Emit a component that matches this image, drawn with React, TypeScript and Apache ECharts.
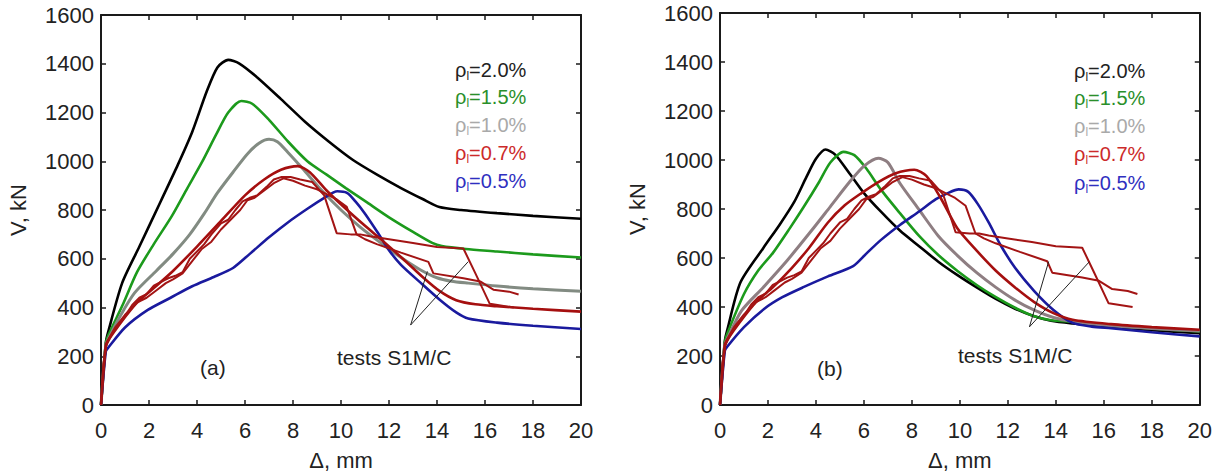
import React, { useEffect, useRef } from "react";
import * as echarts from "echarts";

// ---------- axis settings ----------
const xRange = [0, 20];
const xStep = 2;
const yRange = [0, 1600];
const yStep = 200;
const xName = "Δ, mm";
const yName = "V, kN";

// ---------- legend labels ----------
const legendRatios = ["2.0%", "1.5%", "1.0%", "0.7%", "0.5%"];

// ---------- panel (a) model curves ----------
const a_rho20 = [[0,0],[0.2,255],[0.3,300],[0.88,500],[1.6,650],[2.5,838],[3.2,985],[3.8,1120],[4.4,1285],[4.85,1385],[5.3,1416],[5.75,1402],[6.5,1345],[7.5,1255],[8.5,1162],[9.5,1080],[10.5,1005],[11.5,945],[12.5,890],[13.4,845],[14.1,812],[15,800],[16.5,787],[18,776],[20,764]];
const a_rho15 = [[0,0],[0.2,250],[0.3,285],[0.9,410],[1.5,545],[2.2,660],[2.95,775],[3.6,890],[4.2,995],[4.8,1110],[5.3,1200],[5.85,1247],[6.3,1236],[7.0,1170],[7.8,1080],[8.6,1000],[9.4,945],[10.2,890],[11.1,830],[12.0,770],[13.0,710],[13.8,665],[14.2,652],[15.2,640],[16.5,630],[18,618],[20,605]];
const a_rho10 = [[0,0],[0.2,245],[0.3,270],[0.8,365],[1.4,460],[2.3,550],[3.0,620],[3.7,700],[4.3,785],[4.85,870],[5.5,955],[6.1,1030],[6.6,1075],[7.0,1090],[7.35,1080],[7.8,1035],[8.4,970],[9.2,880],[10.0,800],[10.8,730],[11.7,662],[12.5,605],[13.3,555],[14.0,522],[14.6,508],[15.3,500],[16.5,488],[18,477],[20,467]];
const a_rho07 = [[0,0],[0.2,245],[0.3,265],[0.8,335],[1.5,420],[2.2,480],[3.0,550],[4.0,650],[5.0,755],[6.0,860],[6.8,925],[7.5,965],[8.2,980],[8.7,955],[9.4,880],[10.2,805],[11.0,735],[11.8,668],[12.6,598],[13.4,525],[14.1,468],[14.8,430],[15.6,413],[16.5,405],[18,395],[20,383]];
const a_rho05 = [[0,0],[0.2,220],[0.3,235],[1.0,318],[1.95,390],[2.9,440],[3.8,487],[4.7,525],[5.5,562],[6.2,620],[7.0,688],[7.8,750],[8.6,805],[9.3,850],[9.85,877],[10.25,870],[10.6,835],[11.0,785],[11.5,712],[12.0,635],[12.5,575],[13.3,503],[14.1,433],[14.8,380],[15.3,355],[16.5,338],[18,325],[20,312]];

// ---------- panel (b) model curves ----------
const b_rho20 = [[0,0],[0.2,260],[0.3,305],[0.85,500],[1.8,640],[2.5,738],[3.1,830],[3.6,930],[4.0,1005],[4.4,1043],[4.8,1022],[5.4,945],[6.0,865],[6.7,790],[7.5,712],[8.3,648],[9.1,585],[9.9,530],[10.7,480],[11.5,433],[12.3,393],[13.1,362],[13.8,344],[14.7,333],[16.3,318],[18,305],[20,293]];
const b_rho15 = [[0,0],[0.2,255],[0.3,290],[1.0,453],[1.6,550],[2.2,620],[2.9,720],[3.5,810],[4.1,905],[4.6,990],[5.15,1033],[5.6,1020],[6.1,965],[6.7,880],[7.5,783],[8.3,690],[9.1,612],[9.9,547],[10.7,490],[11.5,440],[12.3,397],[13.1,362],[13.8,346],[14.7,340],[16.3,325],[18,312],[20,300]];
const b_rho10 = [[0,0],[0.2,245],[0.3,270],[0.9,385],[1.8,480],[2.8,590],[3.8,710],[4.6,810],[5.4,910],[6.0,975],[6.6,1007],[7.0,990],[7.5,905],[8.3,797],[9.1,690],[9.9,610],[10.7,540],[11.5,480],[12.3,428],[13.1,387],[13.9,357],[14.7,341],[16.3,323],[18,312],[20,302]];
const b_rho07 = [[0,0],[0.2,245],[0.3,265],[0.8,335],[1.5,420],[2.2,480],[3.0,560],[3.7,640],[4.5,745],[5.2,815],[5.9,865],[6.6,910],[7.3,945],[8.1,960],[8.6,935],[9.2,845],[9.9,720],[10.7,630],[11.5,548],[12.3,480],[13.1,420],[13.9,375],[14.7,348],[16.3,330],[18,318],[20,307]];
const b_rho05 = [[0,0],[0.2,220],[0.3,238],[1.0,318],[1.85,393],[2.6,440],[3.5,482],[4.5,525],[5.55,567],[6.1,618],[6.7,673],[7.5,735],[8.3,790],[9.0,840],[9.5,865],[9.95,880],[10.35,870],[10.75,820],[11.2,745],[11.7,652],[12.3,560],[13.1,465],[13.9,388],[14.7,335],[15.5,320],[16.3,313],[18,297],[20,280]];

// ---------- test curves S1M / S1C (same in both panels) ----------
const testS1M = [[0,0],[0.08,120],[0.2,240],[0.5,300],[0.9,350],[1.3,410],[1.6,440],[1.9,455],[2.2,490],[2.5,505],[2.8,520],[3.1,530],[3.4,545],[3.7,600],[4.0,630],[4.3,660],[4.6,700],[5.0,745],[5.3,760],[5.6,800],[5.9,835],[6.2,850],[6.5,860],[6.9,895],[7.2,925],[7.5,935],[7.9,935],[8.3,925],[8.8,915],[9.3,860],[9.82,705],[10.4,700],[10.8,700],[11.2,692],[12.0,680],[13.0,665],[14.0,648],[15.1,642],[15.6,540],[16.2,415],[17.2,400]];
const testS1C = [[0,0],[0.1,170],[0.25,260],[0.6,320],[1.0,370],[1.5,420],[1.9,440],[2.3,470],[2.7,500],[3.0,515],[3.4,540],[3.8,590],[4.2,640],[4.6,670],[5.0,720],[5.4,760],[5.8,800],[6.1,840],[6.4,850],[6.8,880],[7.2,910],[7.6,930],[8.0,920],[8.5,900],[9.0,885],[9.4,865],[9.8,845],[10.24,813],[10.65,700],[11.0,680],[11.49,660],[12.5,625],[13.64,587],[13.85,540],[15.1,520],[15.8,507],[16.35,473],[17.0,465],[17.4,453]];

// ---------- annotation pointer lines ----------
const a_pointer1 = [[12.9,328],[13.6,548]];
const a_pointer2 = [[12.9,328],[15.3,588]];
const b_pointer1 = [[12.9,319],[13.7,585]];
const b_pointer2 = [[12.9,319],[15.4,585]];

const FONT = "'Liberation Sans', Arial, Helvetica, sans-serif";
const C = {
  black: "#000000",
  green: "#1c9a1c",
  grayA: "#828b82",
  grayB: "#8e7e82",
  red: "#a50f0f",
  test: "#a31414",
  blue: "#1a1a9e",
};
const legendColors = ["#222222", "#2a8f2a", "#a9a9a9", "#cc2a2a", "#2f2fc0"];

function lineSeries(data: number[][], color: string, width: number, gi: number, smooth: boolean) {
  return {
    type: "line",
    data,
    xAxisIndex: gi * 2,
    yAxisIndex: gi * 2,
    showSymbol: false,
    symbol: "none",
    smooth: smooth ? 0.25 : false,
    lineStyle: { color, width },
    silent: true,
    z: 2,
  };
}

function axesFor(gi: number) {
  const common = {
    gridIndex: gi,
    type: "value",
    axisLine: { show: true, onZero: false, lineStyle: { color: "#1a1a1a", width: 2 } },
    axisTick: { show: true, inside: true, length: 5, lineStyle: { color: "#1a1a1a", width: 1.5 } },
    splitLine: { show: false },
  };
  const fmt = (v: number) => String(v);
  const xs = [
    {
      ...common,
      position: "bottom",
      min: xRange[0],
      max: xRange[1],
      interval: xStep,
      name: xName,
      nameLocation: "middle",
      nameGap: 44,
      nameTextStyle: { fontFamily: FONT, fontSize: 22, color: "#222" },
      axisLabel: { fontFamily: FONT, fontSize: 22, color: "#222", margin: 14, formatter: fmt },
    },
    {
      ...common,
      position: "top",
      min: xRange[0],
      max: xRange[1],
      interval: xStep,
      axisLabel: { show: false },
    },
  ];
  const ys = [
    {
      ...common,
      position: "left",
      min: yRange[0],
      max: yRange[1],
      interval: yStep,
      name: yName,
      nameLocation: "middle",
      nameGap: 72,
      nameRotate: 90,
      nameTextStyle: { fontFamily: FONT, fontSize: 22, color: "#222" },
      axisLabel: { fontFamily: FONT, fontSize: 22, color: "#222", margin: 7, formatter: fmt },
    },
    {
      ...common,
      position: "right",
      min: yRange[0],
      max: yRange[1],
      interval: yStep,
      axisLabel: { show: false },
    },
  ];
  return { xs, ys };
}

function legendTexts(left: number, ys: number[]) {
  return legendRatios.map((r, i) => {
    const fill = legendColors[i];
    return {
      type: "text",
      left,
      top: ys[i] - 12,
      style: {
        text: `{a|ρ}{s|l}{a|=${r}}`,
        rich: {
          a: { fontFamily: FONT, fontSize: 20, lineHeight: 24, fill },
          s: { fontFamily: FONT, fontSize: 12, lineHeight: 12, verticalAlign: "bottom", fill },
        },
        fill,
      },
      silent: true,
    };
  });
}

function plainText(text: string, x: number, y: number, size: number) {
  return {
    type: "text",
    x,
    y,
    style: {
      text,
      fontFamily: FONT,
      fontSize: size,
      fill: "#222",
      align: "left",
      verticalAlign: "middle",
    },
    silent: true,
  };
}

export default function App() {
  const ref = useRef<HTMLDivElement | null>(null);
  useEffect(() => {
    if (!ref.current) return;
    const chart = echarts.init(ref.current, undefined, { renderer: "svg" });
    const a = axesFor(0);
    const b = axesFor(1);
    const series: any[] = [
      lineSeries(a_rho20, C.black, 2.6, 0, true),
      lineSeries(a_rho15, C.green, 2.6, 0, true),
      lineSeries(a_rho10, C.grayA, 3, 0, true),
      lineSeries(a_rho05, C.blue, 2.6, 0, true),
      lineSeries(a_rho07, C.red, 2.6, 0, true),
      lineSeries(testS1M, C.test, 2, 0, false),
      lineSeries(testS1C, C.test, 2, 0, false),
      lineSeries(a_pointer1, "#222", 1, 0, false),
      lineSeries(a_pointer2, "#222", 1, 0, false),
      lineSeries(b_rho20, C.black, 2.6, 1, true),
      lineSeries(b_rho15, C.green, 2.6, 1, true),
      lineSeries(b_rho10, C.grayB, 3, 1, true),
      lineSeries(b_rho05, C.blue, 2.6, 1, true),
      lineSeries(b_rho07, C.red, 2.6, 1, true),
      lineSeries(testS1M, C.test, 2, 1, false),
      lineSeries(testS1C, C.test, 2, 1, false),
      lineSeries(b_pointer1, "#222", 1, 1, false),
      lineSeries(b_pointer2, "#222", 1, 1, false),
    ];
    chart.setOption({
      animation: false,
      backgroundColor: "#ffffff",
      grid: [
        { left: 101, top: 15, width: 480, height: 400 },
        { left: 720, top: 13, width: 480, height: 400 },
      ],
      xAxis: [...a.xs, ...b.xs],
      yAxis: [...a.ys, ...b.ys],
      series,
      graphic: [
        ...legendTexts(455, [72, 99, 127, 155, 183]),
        ...legendTexts(1074, [73, 100, 128, 156, 185]),
        plainText("(a)", 200, 367, 21),
        plainText("tests S1M/C", 337, 357, 21),
        plainText("(b)", 817, 368, 21),
        plainText("tests S1M/C", 958, 355, 21),
      ],
    });
    return () => chart.dispose();
  }, []);
  return (
    <div
      ref={ref}
      style={{ position: "fixed", left: 0, top: 0, width: 1215, height: 476, background: "#fff" }}
    />
  );
}
